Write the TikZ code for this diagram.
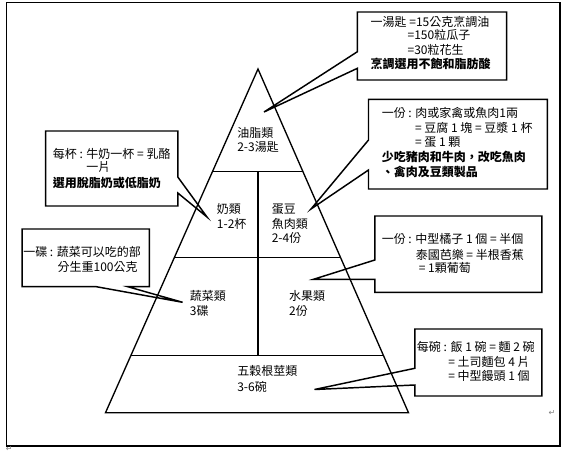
\documentclass[tikz,border=0pt]{standalone}
\usepackage{fontspec}
\setmainfont{Noto Sans CJK TC}
\newfontfamily\symfont{DejaVu Sans}

\begin{document}
\begin{tikzpicture}[x=0.75pt,y=0.75pt,yscale=-1,xscale=1,
  lbl/.style={anchor=west,inner sep=0pt,font=\fontsize{9}{10}\selectfont},
  bld/.style={lbl,font=\fontsize{9}{10}\selectfont\bfseries},
  callout/.style={line width=1.1pt,line join=miter},
  pyr/.style={line width=1pt},
  retmark/.style={inner sep=0pt,text=gray,font=\symfont\fontsize{6}{6}\selectfont}]

\useasboundingbox (0,0) rectangle (579,458);
\draw [line width=0.8pt] (6.7,2.7) rectangle (560,446);

% pyramid
\coordinate (apex) at (258,69);
\coordinate (bl) at (105.5,412.7);
\coordinate (br) at (408.5,412.7);
\draw [pyr] (apex) -- (bl) -- (br) -- cycle;
\draw [pyr] (212.6,171.7) -- (303.4,171.7);
\draw [pyr] (174.5,257.7) -- (340.6,257.7);
\draw [pyr] (131.1,355.7) -- (383.4,355.7);
\draw [pyr] (258,171.7) -- (258,355.7);

\node[lbl] (oil) at (237,133.3) {油脂類};
\node[lbl] (oiln) at (237,146.7) {2-3湯匙};
\node[lbl] (milk) at (216.7,209.3) {奶類};
\node[lbl] (milkn) at (216.7,224) {1-2杯};
\node[lbl] (meat) at (271.5,209.3) {蛋豆};
\node[lbl] (meatb) at (271.5,224) {魚肉類};
\node[lbl] (meatn) at (271.5,238.3) {2-4份};
\node[lbl] (veg) at (189.6,295.7) {蔬菜類};
\node[lbl] (vegn) at (189.6,310.7) {3碟};
\node[lbl] (fruit) at (288.9,295.7) {水果類};
\node[lbl] (fruitn) at (288.9,310.7) {2份};
\node[lbl] (rice) at (237,371) {五穀根莖類};
\node[lbl] (ricen) at (237,386.7) {3-6碗};

% callouts
\coordinate (oiltip) at (264,112);
\coordinate (meattip) at (311,209);
\coordinate (milktip) at (207,217);
\coordinate (vegtip) at (182.6,302.3);
\coordinate (fruittip) at (313.5,279.3);
\coordinate (ricetip) at (314.5,389.5);

\draw [callout] (357.4,12) -- (506.7,12) -- (506.7,80) -- (357.4,80) -- (357.4,68.3) -- (oiltip) -- (357.4,51.7) -- cycle;
\draw [callout] (368.5,99.3) -- (547.4,99.3) -- (547.4,189) -- (368.5,189) -- (368.5,170) -- (meattip) -- (368.5,140) -- cycle;
\draw [callout] (45.6,131) -- (177.8,131) -- (177.8,177) -- (milktip) -- (177.8,193) -- (177.8,206) -- (45.6,206) -- cycle;
\draw [callout] (22.2,229) -- (149.3,229) -- (149.3,286.7) -- (127.8,286.7) -- (vegtip) -- (96.3,286.7) -- (22.2,286.7) -- cycle;
\draw [callout] (374.8,216) -- (541.9,216) -- (541.9,292.3) -- (374.8,292.3) -- (374.8,279.3) -- (fruittip) -- (374.8,260) -- cycle;
\draw [callout] (414.8,329) -- (541.9,329) -- (541.9,396) -- (414.8,396) -- (414.8,385) -- (ricetip) -- (414.8,368.3) -- cycle;

\node[lbl] (oila) at (370.4,21.7) {一湯匙 =15公克烹調油};
\node[lbl] (oilb) at (407.4,35) {=150粒瓜子};
\node[lbl] (oilc) at (407.4,50) {=30粒花生};
\node[bld] (oild) at (370.4,64.3) {烹調選用不飽和脂肪酸};

\node[lbl] (meata) at (381.5,113.3) {一份 : 肉或家禽或魚肉1兩};
\node[lbl] (meatb2) at (414.8,127.7) {= 豆腐 1 塊 = 豆漿 1 杯};
\node[lbl] (meatc) at (414.8,142.7) {= 蛋 1 顆};
\node[bld] (meatd) at (381.5,156.7) {少吃豬肉和牛肉，改吃魚肉};
\node[bld] (meate) at (381.5,171.7) {、禽肉及豆類製品};

\node[lbl] (milka) at (52.6,154) {每杯 : 牛奶一杯 = 乳酪};
\node[lbl] (milkb) at (86,167) {一片};
\node[bld] (milkc) at (52.6,182.7) {選用脫脂奶或低脂奶};

\node[lbl] (vega) at (23,252.3) {一碟 : 蔬菜可以吃的部};
\node[lbl] (vegb) at (57.4,266.7) {分生重100公克};

\node[lbl] (fruita) at (381.5,239.3) {一份 : 中型橘子 1 個 = 半個};
\node[lbl] (fruitb) at (415.5,255) {泰國芭樂 = 半根香蕉};
\node[lbl] (fruitc) at (418.5,268.3) {= 1顆葡萄};

\node[lbl] (ricea) at (416.7,346.7) {每碗 : 飯 1 碗 = 麵 2 碗};
\node[lbl] (riceb) at (448,361.7) {= 土司麵包 4 片};
\node[lbl] (ricec) at (448,375.7) {= 中型饅頭 1 個};

\node[retmark] (reta) at (551.9,412.7) {↵};
\node[retmark] (retb) at (9.3,449) {↵};

\end{tikzpicture}
\end{document}
